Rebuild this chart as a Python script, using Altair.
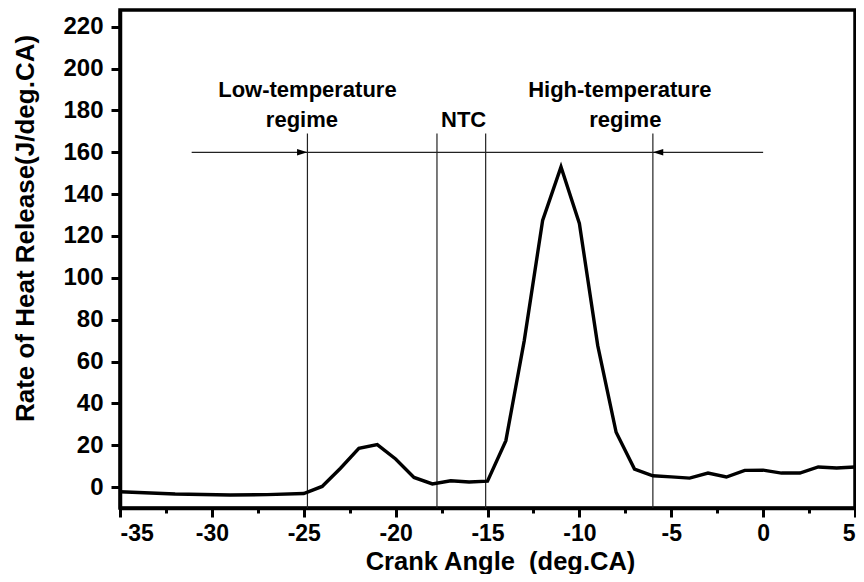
import altair as alt
import pandas as pd

# ---- data ----
crank_angle = [-35, -32, -29, -27, -25, -24, -23, -22, -21, -20, -19, -18, -17, -16, -15,
               -14, -13, -12, -11, -10, -9, -8, -7, -6, -5, -4, -3, -2, -1, 0, 1, 2, 3, 4, 5]
heat_release = [-2.2, -3.3, -3.8, -3.6, -3.1, 0.3, 9.0, 18.5, 20.3, 13.4, 4.6, 1.5, 3.0, 2.4, 2.8,
                22.2, 70.0, 127.4, 153.0, 126.0, 67.6, 26.2, 8.6, 5.4, 4.9, 4.3, 6.7, 4.8, 8.0, 8.1,
                6.7, 6.7, 9.6, 9.1, 9.6]

boundary_x = [-24.8, -17.75, -15.1, -6.0]
boundary_top = 169

arrow_x_start = -31.1
arrow_x_end = 0.0
arrow_y = 160
arrowhead_x = [-24.8, -6.0]
arrowhead_dir = ["right", "left"]

label_text = ["Low-temperature", "regime", "NTC", "High-temperature", "regime"]
label_x = [-24.8, -25.1, -16.3, -7.8, -7.5]
label_y = [186.5, 172.3, 172.3, 186.5, 172.3]

x_ticks = [-35 + 2.5 * i for i in range(17)]
y_ticks = [10 * i for i in range(23)]

FONT = "Liberation Sans"

curve_df = pd.DataFrame({"x": crank_angle, "y": heat_release})
vline_df = pd.DataFrame({"x": boundary_x, "y0": [-10] * len(boundary_x), "y1": [boundary_top] * len(boundary_x)})
arrow_df = pd.DataFrame({"x0": [arrow_x_start], "x1": [arrow_x_end], "y": [arrow_y]})
head_df = pd.DataFrame({"x": arrowhead_x, "y": [arrow_y] * 2, "dir": arrowhead_dir})
text_df = pd.DataFrame({"t": label_text, "x": label_x, "y": label_y})

xscale = alt.Scale(domain=[-35, 5], nice=False, zero=False)
yscale = alt.Scale(domain=[-10, 228], nice=False, zero=False)

x_axis = alt.Axis(
    values=x_ticks,
    labelExpr="datum.value % 5 === 0 ? (datum.value < 0 ? '-' + abs(datum.value) : '' + datum.value) : ''",
    tickSize={"condition": {"test": "datum.value % 5 === 0", "value": 9}, "value": 5},
    title="Crank Angle\u00a0 (deg.CA)",
    titleX=380, titleY=61, titleBaseline="alphabetic", titleAnchor="start", titleAlign="center",
    titleFontSize=25.5,
    labelPadding=5, labelFontSize=23,
)
y_axis = alt.Axis(
    values=y_ticks,
    labelExpr="datum.value % 20 === 0 ? datum.label : ''",
    tickSize={"condition": {"test": "datum.value % 20 === 0", "value": 9}, "value": 5},
    title="Rate of Heat Release(J/deg.CA)",
    titleX=-95, titleY=218, titleBaseline="middle", titleAlign="center", titleAngle=270,
    titleFontSize=26, labelFontSize=24,
    labelPadding=8,
)

curve = alt.Chart(curve_df).mark_line(color="black", strokeWidth=3.4).encode(
    x=alt.X("x:Q", scale=xscale, axis=x_axis),
    y=alt.Y("y:Q", scale=yscale, axis=y_axis),
)

vlines = alt.Chart(vline_df).mark_rule(color="#222222", strokeWidth=1.2).encode(
    x=alt.X("x:Q", scale=xscale),
    y=alt.Y("y0:Q", scale=yscale),
    y2="y1:Q",
)

arrow = alt.Chart(arrow_df).mark_rule(color="#222222", strokeWidth=1.2).encode(
    x=alt.X("x0:Q", scale=xscale),
    x2="x1:Q",
    y=alt.Y("y:Q", scale=yscale),
)

heads = alt.Chart(head_df).mark_point(filled=True, color="black", opacity=1, size=300).encode(
    x=alt.X("x:Q", scale=xscale),
    y=alt.Y("y:Q", scale=yscale),
    shape=alt.Shape("dir:N", scale=alt.Scale(domain=["right", "left"],
                                            range=["M0,0 L-1.2,-0.38 L-1.2,0.38 Z",
                                                   "M0,0 L1.2,-0.38 L1.2,0.38 Z"]), legend=None),
)

texts = alt.Chart(text_df).mark_text(font=FONT, fontSize=22, fontWeight="bold", color="black",
                                     baseline="alphabetic", align="center").encode(
    x=alt.X("x:Q", scale=xscale),
    y=alt.Y("y:Q", scale=yscale),
    text="t:N",
)

chart = alt.layer(vlines, arrow, heads, texts, curve).properties(
    width=735, height=498,
    autosize=alt.AutoSizeParams(type="none"),
    padding={"left": 112, "top": 2, "right": 1, "bottom": 66},
).configure_view(
    stroke="black", strokeWidth=3.5
).configure_axis(
    domainColor="black", domainWidth=3.5, tickColor="black", tickWidth=3,
    labelFont=FONT, labelFontWeight="bold", labelColor="black",
    titleFont=FONT, titleFontWeight="bold", titleColor="black",
    grid=False,
)

chart.save("out.html", embed_options={"renderer": "svg", "actions": False})
